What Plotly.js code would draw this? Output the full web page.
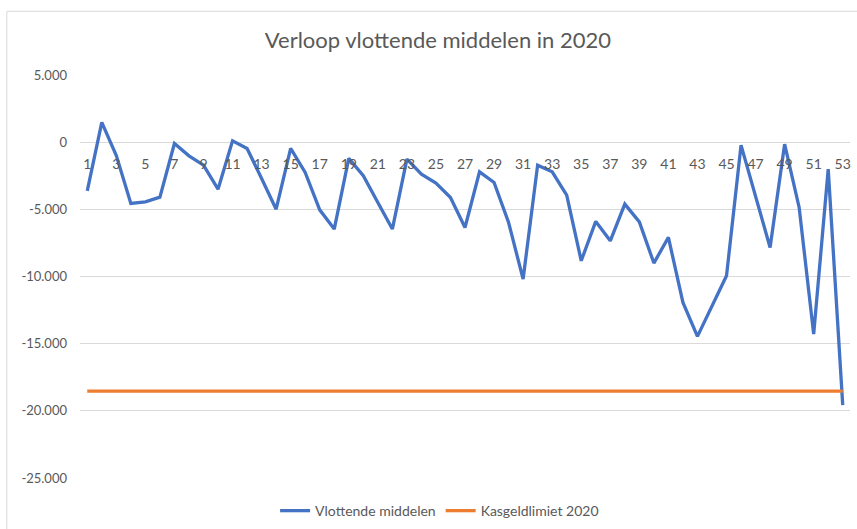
<!DOCTYPE html>
<html>
<head>
<meta charset="utf-8">
<script src="https://cdn.plot.ly/plotly-3.0.1.min.js"></script>
<style>html,body{margin:0;padding:0;background:#fff;}#chart{width:857px;height:529px;}</style>
</head>
<body>
<div id="chart"></div>
<script>
const weeks = Array.from({length: 53}, (_, i) => i + 1);
const vlottendeMiddelen = [
  -3620, 1470, -1000, -4560, -4440, -4090, -100, -1020, -1710, -3500,
  100, -470, -2700, -4990, -470, -2250, -5040, -6470, -1210, -2500,
  -4490, -6470, -1260, -2380, -3050, -4120, -6350, -2210, -3000, -5980,
  -10190, -1710, -2210, -3940, -8830, -5900, -7340, -4610, -5930, -9000,
  -7090, -11930, -14460, -12200, -9950, -220, -3990, -7840, -150, -4860,
  -14290, -2010, -19570
];
const kasgeldlimiet = weeks.map(() => -18530);
const xTickVals = [1,3,5,7,9,11,13,15,17,19,21,23,25,27,29,31,33,35,37,39,41,43,45,47,49,51,53];
const yTickVals = [5000, 0, -5000, -10000, -15000, -20000, -25000];
const yTickText = ['5.000', '0', '-5.000', '-10.000', '-15.000', '-20.000', '-25.000'];

const font = "Lato, 'Open Sans', sans-serif";
const traces = [
  {x: weeks, y: vlottendeMiddelen, type: 'scatter', mode: 'lines', name: 'Vlottende middelen',
   line: {color: '#4472C4', width: 3.3}},
  {x: weeks, y: kasgeldlimiet, type: 'scatter', mode: 'lines', name: 'Kasgeldlimiet 2020',
   line: {color: '#ED7D31', width: 3.3}}
];
const layout = {
  width: 857, height: 529,
  margin: {l: 80, r: 6.5, t: 75, b: 51, autoexpand: false},
  paper_bgcolor: '#fff', plot_bgcolor: '#fff',
  font: {family: font, color: '#595959', size: 13},
  title: {text: 'Verloop vlottende middelen in 2020', x: 0.511, xanchor: 'center', y: 0.923, yanchor: 'middle',
          font: {family: font, size: 22, color: '#595959'}},
  xaxis: {range: [0.5, 53.5], tickmode: 'array', tickvals: xTickVals, ticktext: xTickVals.map(String),
          showgrid: false, zeroline: false, showline: false, ticks: '', ticklabelstandoff: 12,
          anchor: 'free', position: 25000/30000, automargin: false, tickfont: {size: 14, color: '#595959'}},
  yaxis: {range: [-25000, 5000], tickmode: 'array', tickvals: yTickVals, ticktext: yTickText,
          showgrid: true, gridcolor: '#d9d9d9', gridwidth: 1, zeroline: true, zerolinecolor: '#d9d9d9', zerolinewidth: 1,
          showline: false, ticks: '', ticklabelstandoff: 12, automargin: false, tickfont: {size: 13, color: '#595959'}},
  showlegend: true,
  legend: {orientation: 'h', x: 0.467, xanchor: 'center', y: -0.082, yanchor: 'middle',
           font: {size: 14, color: '#595959'}, itemwidth: 30},
  shapes: [{type: 'rect', xref: 'paper', yref: 'paper', x0: -0.095, x1: 1.02, y0: -0.2, y1: 1.158,
            line: {color: '#d9d9d9', width: 1}, fillcolor: 'rgba(0,0,0,0)', layer: 'below'}]
};
Plotly.newPlot('chart', traces, layout, {displayModeBar: false, staticPlot: true});
</script>
</body>
</html>
